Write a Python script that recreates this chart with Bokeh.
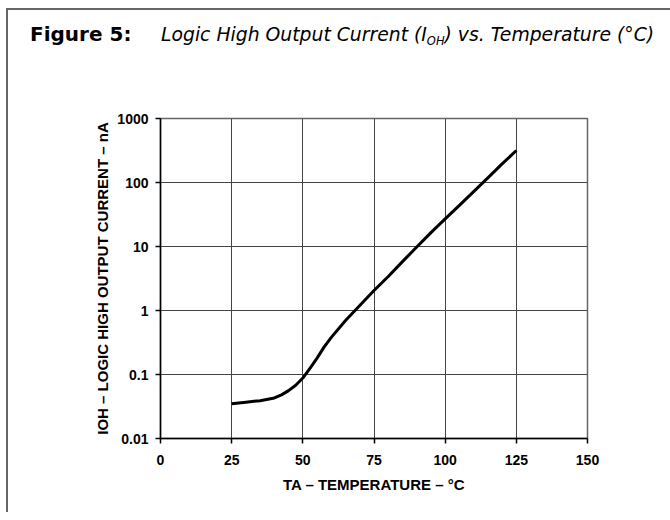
from bokeh.plotting import figure
from bokeh.models import FixedTicker, Div
from bokeh.layouts import column
from bokeh.embed import file_html
from bokeh.resources import INLINE

# ---- data ----
temp_c = [25, 30, 35, 40, 42.5, 45, 47.5, 50, 52.5, 55, 57.5, 60, 65, 70, 75,
          80, 85, 90, 95, 100, 105, 110, 115, 120, 125]
ioh_na = [0.035, 0.037, 0.039, 0.043, 0.048, 0.056, 0.068, 0.088, 0.125, 0.18, 0.27, 0.38,
          0.70, 1.2, 2.05, 3.4, 5.8, 9.8, 16.5, 27, 44, 72, 118, 195, 316]

x_ticks = [0, 25, 50, 75, 100, 125, 150]
y_ticks = [0.01, 0.1, 1, 10, 100, 1000]
y_tick_labels = ["0.01", "0.1", "1", "10", "100", "1000"]

title_bold = "Figure 5:"
title_part1 = "Logic High Output Current (I"
title_sub = "OH"
title_part2 = ") vs. Temperature (°C)"
x_label = "TA – TEMPERATURE – °C"
y_label = "IOH – LOGIC HIGH OUTPUT CURRENT – nA"

# ---- title (HTML, with subscript) ----
title_html = (
    '<div style="position:relative;width:662px;height:60px;">'
    '<span style="position:absolute;left:22px;top:14px;white-space:nowrap;'
    "font:bold 20px/20px 'DejaVu Sans';color:#000;\">" + title_bold + '</span>'
    '<span style="position:absolute;left:153px;top:15px;white-space:nowrap;'
    "font:italic 18.8px/20px 'DejaVu Sans';color:#000;\">" + title_part1 +
    '<span style="font-size:11.5px;position:relative;top:4px;">' + title_sub + '</span>'
    + title_part2 + '</span></div>'
)
title_div = Div(text=title_html, width=662, height=60, margin=0)

# ---- plot ----
p = figure(frame_width=427, frame_height=320,
           x_range=(0, 150), y_range=(0.01, 1000), y_axis_type="log",
           output_backend="svg", toolbar_location=None,
           min_border_left=152, min_border_right=83,
           min_border_top=48, min_border_bottom=74,
           background_fill_color="white", border_fill_color="white")

p.line(temp_c, ioh_na, line_color="black", line_width=3, line_join="round")

# axes
p.xaxis.ticker = FixedTicker(ticks=x_ticks)
p.yaxis.ticker = FixedTicker(ticks=y_ticks)
p.yaxis.major_label_overrides = dict(zip(y_ticks, y_tick_labels))
for ax in (p.xaxis[0], p.yaxis[0]):
    ax.axis_line_color = "black"
    ax.axis_line_width = 1.5
    ax.major_tick_line_color = "black"
    ax.major_tick_line_width = 1.5
    ax.major_tick_out = 5
    ax.major_tick_in = 0
    ax.minor_tick_out = 0
    ax.minor_tick_in = 0
    ax.major_label_text_font = "Liberation Sans"
    ax.major_label_text_font_style = "bold"
    ax.major_label_text_font_size = "14px"
    ax.major_label_text_color = "black"
    ax.axis_label_text_font = "Liberation Sans"
    ax.axis_label_text_font_style = "bold"
    ax.axis_label_text_font_size = "15px"
    ax.axis_label_text_color = "black"
p.xaxis.axis_label = x_label
p.yaxis.axis_label = y_label
p.xaxis.major_label_standoff = 11
p.yaxis.major_label_standoff = 7
p.xaxis.axis_label_standoff = 8
p.yaxis.axis_label_standoff = 3

# grid
p.xgrid.ticker = FixedTicker(ticks=x_ticks)
p.ygrid.ticker = FixedTicker(ticks=y_ticks)
for g in (p.xgrid[0], p.ygrid[0]):
    g.grid_line_color = "#444444"
    g.grid_line_width = 1
    g.grid_line_alpha = 1
p.outline_line_color = "#666666"
p.outline_line_width = 1.5

layout = column(title_div, p, spacing=0)
layout.styles = {"margin-left": "6px", "margin-top": "8px",
                 "border-left": "2px solid #666666", "border-top": "2px solid #666666"}

open("out.html", "w").write(file_html(layout, INLINE))
